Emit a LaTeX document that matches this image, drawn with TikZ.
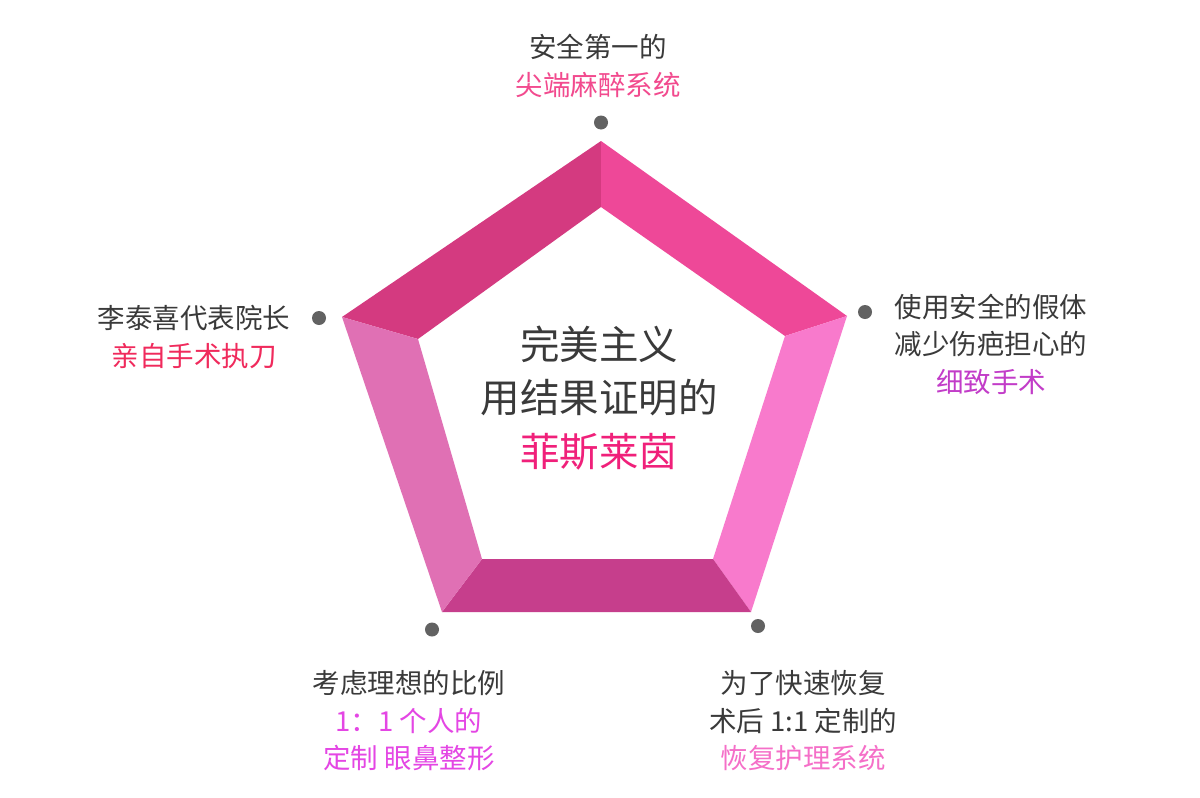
\documentclass[tikz,border=0pt]{standalone}
\usepackage{fontspec}
\setmainfont{Noto Sans CJK SC}
\begin{document}
\begin{tikzpicture}[x=1pt,y=-1pt,
  dotmark/.style={circle,fill=dotgray,inner sep=0pt,minimum size=14pt},
  lbl/.style={align=center,inner sep=0pt,text=txtgray,font=\fontsize{27.5}{37.5}\selectfont},
  ctr/.style={align=center,inner sep=0pt,text=txtgray,font=\fontsize{39.5}{53.5}\selectfont},
]
\definecolor{txtgray}{HTML}{3A3A3A}
\definecolor{dotgray}{HTML}{626262}
\definecolor{segTL}{RGB}{212,58,128}
\definecolor{segTR}{RGB}{238,72,152}
\definecolor{segR}{RGB}{248,122,204}
\definecolor{segB}{RGB}{198,62,140}
\definecolor{segL}{RGB}{224,112,180}
\definecolor{cTop}{HTML}{F24A8E}
\definecolor{cLeft}{HTML}{F02A5C}
\definecolor{cRight}{HTML}{C23CC8}
\definecolor{cBL}{HTML}{E446E4}
\definecolor{cBR}{HTML}{F56FC8}
\definecolor{cCtr}{HTML}{F0207A}
\useasboundingbox (0,0) rectangle (1200,798);
\fill[white] (0,0) rectangle (1200,798);
% outer vertices
\coordinate (oT) at (601,141);
\coordinate (oR) at (847,316);
\coordinate (oBR) at (751,612);
\coordinate (oBL) at (442,612);
\coordinate (oL) at (342,317);
% inner vertices
\coordinate (iT) at (601,207);
\coordinate (iR) at (785,336);
\coordinate (iBR) at (713,559);
\coordinate (iBL) at (482,559);
\coordinate (iL) at (418,339);
% segments
\fill[segTL] (oT) -- (oL) -- (iL) -- (iT) -- cycle;
\fill[segTR] (oT) -- (oR) -- (iR) -- (iT) -- cycle;
\fill[segR] (oR) -- (oBR) -- (iBR) -- (iR) -- cycle;
\fill[segB] (oBR) -- (oBL) -- (iBL) -- (iBR) -- cycle;
\fill[segL] (oBL) -- (oL) -- (iL) -- (iBL) -- cycle;
% dots
\node[dotmark] (dT) at (601,122.5) {};
\node[dotmark] (dR) at (865,312) {};
\node[dotmark] (dBR) at (758,626) {};
\node[dotmark] (dBL) at (432,629.5) {};
\node[dotmark] (dL) at (319,318) {};
% labels
\node[lbl] (lT) at (598,66) {安全第一的\\\textcolor{cTop}{尖端麻醉系统}};
\node[lbl] (lL) at (194,337) {李泰喜代表院长\\\textcolor{cLeft}{亲自手术执刀}};
\node[lbl] (lR) at (991,344) {使用安全的假体\\减少伤疤担心的\\\textcolor{cRight}{细致手术}};
\node[lbl] (lBL) at (409,721) {考虑理想的比例\\\textcolor{cBL}{1：1 个人的}\\\textcolor{cBL}{定制 眼鼻整形}};
\node[lbl] (lBR) at (803,721) {为了快速恢复\\术后 1:1 定制的\\\textcolor{cBR}{恢复护理系统}};
\node[ctr] (cT) at (599,398) {完美主义\\用结果证明的\\\textcolor{cCtr}{菲斯莱茵}};
\end{tikzpicture}
\end{document}
